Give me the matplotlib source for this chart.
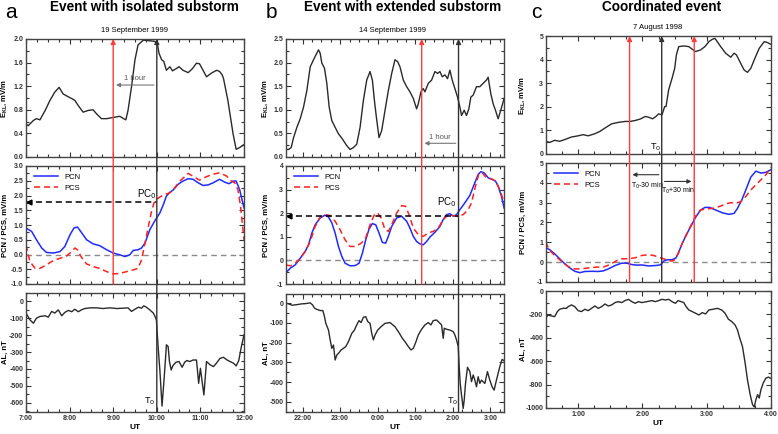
import matplotlib
matplotlib.use("Agg")
import matplotlib.pyplot as plt
from matplotlib.patches import ConnectionPatch
from matplotlib.ticker import MultipleLocator, FuncFormatter

plt.rcParams['font.family'] = ['Liberation Sans', 'DejaVu Sans']
plt.rcParams['axes.unicode_minus'] = False

# ---------------- panel a : 19 September 1999 ----------------
a_ekl_t = [7.00, 7.05, 7.17, 7.24, 7.32, 7.44, 7.55, 7.66, 7.76, 7.85, 7.97, 8.05, 8.12, 8.20,
           8.31, 8.43, 8.54, 8.62, 8.73, 8.85, 9.00, 9.15, 9.24, 9.29, 9.34, 9.42, 9.50, 9.57,
           9.69, 9.84, 9.95, 10.01, 10.05, 10.11, 10.16, 10.22, 10.30, 10.36, 10.45, 10.51,
           10.60, 10.72, 10.82, 10.91, 10.98, 11.06, 11.14, 11.25, 11.37, 11.44, 11.50, 11.53,
           11.63, 11.75, 11.82, 11.90, 12.00]
a_ekl = [0.56, 0.53, 0.62, 0.65, 0.63, 0.79, 0.96, 1.10, 1.18, 1.07, 1.02, 0.99, 0.96, 0.87,
         0.76, 0.79, 0.80, 0.73, 0.65, 0.65, 0.67, 0.69, 0.65, 0.63, 0.79, 1.19, 1.65, 1.90,
         1.98, 1.97, 1.96, 1.93, 1.76, 1.65, 1.62, 1.47, 1.53, 1.46, 1.50, 1.53,
         1.47, 1.43, 1.50, 1.59, 1.58, 1.47, 1.36, 1.42, 1.47, 1.45, 1.39, 1.33,
         0.96, 0.39, 0.13, 0.16, 0.21]

a_pcn_t = [7.00, 7.13, 7.24, 7.36, 7.47, 7.63, 7.78, 7.89, 8.01, 8.10, 8.18, 8.27, 8.39, 8.54,
           8.69, 8.85, 9.00, 9.15, 9.27, 9.38, 9.46, 9.57, 9.65, 9.73, 9.84, 9.95, 10.07, 10.15,
           10.22, 10.30, 10.37, 10.49, 10.60, 10.72, 10.83, 10.95, 11.06, 11.18, 11.29, 11.44,
           11.56, 11.66, 11.75, 11.82, 11.90, 12.00]
a_pcn = [0.90, 0.78, 0.50, 0.22, 0.07, 0.05, 0.10, 0.27, 0.67, 0.90, 0.93, 0.75, 0.50, 0.36,
         0.30, 0.16, 0.05, -0.01, -0.07, -0.01, 0.14, 0.16, 0.22, 0.39, 0.84, 1.13, 1.41, 1.69,
         1.98, 2.11, 2.18, 2.38, 2.49, 2.57, 2.55, 2.43, 2.34, 2.36, 2.43, 2.55,
         2.45, 2.40, 2.49, 2.49, 2.20, 1.58]

a_pcs_t = [7.00, 7.09, 7.21, 7.32, 7.47, 7.63, 7.78, 7.93, 8.05, 8.12, 8.18, 8.27, 8.39, 8.54,
           8.69, 8.85, 9.00, 9.15, 9.31, 9.46, 9.57, 9.65, 9.73, 9.80, 9.88, 9.95, 10.07, 10.18,
           10.30, 10.41, 10.53, 10.64, 10.72, 10.82, 10.98, 11.14, 11.29, 11.44, 11.60, 11.71,
           11.79, 11.86, 11.92, 11.96, 12.00]
a_pcs = [0.33, -0.24, -0.47, -0.47, -0.35, -0.20, -0.13, -0.05, 0.10, 0.22, 0.16, -0.09, -0.32, -0.41,
         -0.47, -0.58, -0.66, -0.64, -0.58, -0.52, -0.47, -0.18, 0.39, 0.90, 1.47, 1.81, 1.95, 2.03,
         2.09, 2.26, 2.49, 2.64, 2.75, 2.66, 2.52, 2.64, 2.72, 2.77, 2.66, 2.49,
         2.43, 2.20, 1.64, 1.07, 0.50]

a_al_t = [7.00, 7.09, 7.17, 7.24, 7.32, 7.44, 7.51, 7.59, 7.66, 7.74, 7.82, 7.89, 7.97, 8.05,
          8.12, 8.20, 8.27, 8.35, 8.47, 8.62, 8.77, 8.92, 9.08, 9.23, 9.34, 9.42, 9.50, 9.58,
          9.65, 9.70, 9.76, 9.84, 9.92, 9.96, 9.99, 10.03, 10.07, 10.12, 10.17, 10.21, 10.22,
          10.26, 10.29, 10.33, 10.37, 10.44, 10.51, 10.58, 10.64, 10.69, 10.76, 10.83, 10.91,
          10.96, 11.00, 11.08, 11.14, 11.22, 11.30, 11.37, 11.45, 11.53, 11.60, 11.68, 11.76,
          11.82, 11.88, 11.94, 12.00]
a_al = [-69, -109, -129, -99, -89, -85, -93, -59, -69, -50, -85, -65, -53, -61,
        -46, -61, -50, -42, -38, -38, -42, -38, -42, -40, -38, -59, -46, -34,
        -40, -26, -34, -50, -69, -89, -109, -267, -406, -620, -450, -300, -257,
        -267, -356, -406, -380, -360, -356, -390, -360, -350, -356, -347, -347,
        -485, -396, -554, -356, -375, -386, -365, -337, -331, -345, -356, -366,
        -382, -350, -267, -198]

# ---------------- panel b : 14 September 1999 (hours past 24 = next day) ----------------
b_ekl_x = [92, 100, 108, 115, 125, 135, 145, 155, 165, 175, 182, 190, 195, 200, 208, 215, 222,
           230, 240, 250, 262, 275, 285, 295, 305, 315, 325, 335, 345, 352, 358, 364, 372, 380,
           390, 400, 410, 420, 428, 435, 445, 455, 465, 475, 485, 490, 498, 505, 510, 520, 530,
           540, 548, 555, 562, 570, 578, 585, 592, 600, 608, 615, 620, 628, 635, 642, 648, 655,
           665, 675, 685, 695, 700, 708, 715, 722, 730, 738, 748]
b_ekl_t = [round(22 + (x - 142) / 113, 3) for x in b_ekl_x]
b_ekl = [0.16, 0.16, 0.20, 0.41, 0.63, 0.81, 1.06, 1.41, 1.91, 2.06, 2.16, 2.27, 2.20, 1.99, 1.88,
         1.56, 1.06, 0.77, 0.63, 0.49, 0.38, 0.24, 0.16, 0.20, 0.27, 0.63, 1.20, 1.63, 1.81, 1.63,
         1.20, 0.84, 0.41, 0.56, 0.99, 1.41, 1.77, 2.06, 2.02, 1.91, 1.63, 1.49, 1.38, 1.24, 1.02,
         1.13, 1.38, 1.45, 1.38, 1.56, 1.63, 1.81, 1.77, 1.81, 1.70, 1.74, 1.66, 1.84, 1.63, 1.45,
         1.27, 1.06, 0.88, 0.99, 0.88, 1.02, 1.27, 1.31, 1.49, 1.49, 1.56, 1.63, 1.69, 1.34, 1.13,
         0.99, 0.81, 0.99, 1.24]

b_pcn_x = [92, 105, 120, 135, 150, 160, 170, 180, 195, 210, 220, 230, 240, 250, 260, 270, 285,
           300, 312, 322, 332, 342, 352, 362, 372, 382, 392, 400, 410, 425, 440, 455, 465, 475,
           485, 495, 505, 515, 525, 540, 555, 565, 575, 585, 595, 605, 615, 630, 645, 660, 670,
           678, 688, 700, 712, 722, 730, 740, 748]
b_pcn_t = [round(22 + (x - 142) / 113, 3) for x in b_pcn_x]
b_pcn = [-0.52, -0.33, -0.19, 0.09, 0.38, 0.66, 1.16, 1.51, 1.80, 1.92, 1.84, 1.59, 1.16, 0.59,
         0.17, -0.12, -0.23, -0.22, -0.12, 0.31, 0.87, 1.33, 1.56, 1.51, 1.16, 0.76, 0.73, 1.02,
         1.44, 1.80, 1.87, 1.66, 1.37, 1.02, 0.80, 0.70, 0.66, 0.80, 0.99, 1.19, 1.44, 1.73, 1.94,
         1.98, 1.87, 1.94, 2.15, 2.44, 2.75, 3.29, 3.64, 3.76, 3.71, 3.50, 3.43, 3.36, 3.15, 2.72,
         2.22]

b_pcs_x = [92, 105, 120, 135, 150, 165, 180, 195, 210, 225, 240, 255, 270, 285, 300, 315, 330,
           345, 358, 368, 378, 390, 400, 410, 425, 440, 452, 462, 475, 490, 505, 520, 535, 550,
           565, 580, 595, 610, 625, 640, 650, 662, 672, 682, 695, 710, 722, 735, 748]
b_pcs_t = [round(22 + (x - 142) / 113, 3) for x in b_pcs_x]
b_pcs = [-0.19, -0.23, -0.12, 0.09, 0.38, 0.80, 1.44, 1.84, 1.94, 1.90, 1.66, 1.30, 0.87, 0.59,
         0.59, 0.70, 0.87, 1.51, 1.94, 2.01, 1.80, 1.30, 1.23, 1.51, 2.01, 2.32, 2.29, 1.94, 1.37,
         1.09, 1.02, 1.16, 1.23, 1.37, 1.73, 1.94, 1.90, 1.87, 1.94, 2.15, 2.44, 3.15, 3.67, 3.71,
         3.50, 3.46, 3.36, 3.00, 2.44]

b_al_x = [92, 100, 110, 125, 140, 150, 165, 172, 178, 185, 195, 203, 208, 212, 216, 220, 225,
          230, 235, 240, 245, 250, 258, 265, 272, 280, 290, 298, 305, 312, 318, 325, 332, 338,
          345, 350, 355, 360, 368, 378, 390, 405, 420, 432, 442, 450, 460, 468, 475, 482, 490,
          500, 510, 520, 528, 535, 545, 553, 560, 565, 568, 575, 585, 595, 600, 605, 610, 613,
          616, 620, 625, 628, 632, 638, 645, 650, 655, 660, 665, 670, 675, 680, 690, 698, 705,
          712, 718, 725, 735, 742, 748]
b_al_t = [round(22 + (x - 142) / 113, 3) for x in b_al_x]
b_al = [0, -3, -10, -7, -3, -2, 2, -8, -25, -31, -37, -37, -68, -102, -119, -136, -186,
        -229, -212, -288, -263, -254, -237, -229, -220, -195, -153, -136, -110, -88, -98, -71,
        -68, -93, -102, -153, -186, -161, -136, -119, -102, -98, -119, -149, -178, -195, -220,
        -237, -229, -200, -161, -132, -110, -98, -110, -88, -85, -98, -110, -178, -127, -132,
        -136, -144, -161, -186, -220, -322, -407, -466, -534, -492, -407, -325, -347, -398,
        -364, -390, -424, -373, -407, -390, -407, -347, -390, -424, -441, -390, -322, -285, -292]

# ---------------- panel c : 7 August 1998 ----------------
c_ekl_x = [93, 105, 120, 135, 150, 170, 190, 205, 220, 240, 255, 270, 290, 310, 330, 345, 360,
           375, 390, 400, 412, 422, 430, 440, 448, 452, 460, 470, 478, 483, 490, 505, 520, 530,
           540, 555, 568, 580, 590, 598, 605, 615, 630, 645, 655, 662, 672, 685, 695, 705, 715,
           730, 745, 755, 768]
c_ekl_t = [round(1 + (x - 190) / 191.7, 3) for x in c_ekl_x]
c_ekl = [0.54, 0.49, 0.58, 0.54, 0.61, 0.72, 0.77, 0.82, 0.77, 0.86, 0.96, 1.10, 1.28, 1.34,
         1.38, 1.38, 1.42, 1.48, 1.59, 1.56, 1.49, 1.59, 1.70, 1.66, 2.01, 2.01, 2.72, 3.21, 3.63,
         4.20, 4.55, 4.58, 4.55, 4.44, 4.34, 4.41, 4.55, 4.76, 4.86, 4.90, 4.76, 4.55, 4.27, 4.10,
         4.27, 4.20, 3.92, 3.56, 3.46, 3.63, 3.99, 4.48, 4.76, 4.72, 4.62]

c_pcn_x = [93, 105, 120, 135, 150, 165, 180, 195, 210, 230, 250, 265, 280, 300, 320, 335, 350,
           365, 380, 400, 420, 435, 445, 455, 470, 482, 490, 500, 512, 525, 540, 555, 568, 582,
           600, 620, 640, 655, 665, 678, 690, 705, 720, 735, 750, 768]
c_pcn_t = [round(1 + (x - 190) / 191.7, 3) for x in c_pcn_x]
c_pcn = [0.73, 0.63, 0.42, 0.17, -0.08, -0.29, -0.46, -0.53, -0.47, -0.46, -0.47, -0.44, -0.34,
         -0.17, -0.05, -0.05, -0.12, -0.15, -0.14, -0.19, -0.17, -0.14, 0.05, 0.12, 0.12, 0.22,
         0.51, 0.93, 1.36, 1.78, 2.25, 2.63, 2.76, 2.76, 2.63, 2.49, 2.41, 2.46, 2.71, 3.14, 3.64,
         4.29, 4.59, 4.49, 4.53, 4.69]

c_pcs_x = [93, 105, 120, 140, 160, 180, 200, 220, 245, 265, 285, 305, 320, 340, 360, 380, 400,
           415, 430, 445, 460, 470, 478, 488, 500, 512, 525, 540, 555, 570, 590, 610, 630, 645,
           660, 675, 690, 705, 720, 735, 750, 768]
c_pcs_t = [round(1 + (x - 190) / 191.7, 3) for x in c_pcs_x]
c_pcs = [1.02, 0.59, 0.34, 0.05, -0.22, -0.34, -0.34, -0.29, -0.25, -0.25, -0.12, 0.08, 0.17,
         0.17, 0.22, 0.34, 0.37, 0.34, 0.25, 0.17, 0.08, 0.05, 0.12, 0.42, 0.93, 1.36, 1.81, 2.32,
         2.63, 2.68, 2.71, 2.80, 2.93, 3.00, 2.97, 3.05, 3.31, 3.64, 3.90, 4.15, 4.41, 4.83]

c_al_x = [93, 100, 110, 120, 128, 135, 145, 155, 160, 170, 180, 190, 200, 210, 220, 230, 240,
          250, 260, 270, 280, 290, 300, 310, 320, 330, 340, 350, 360, 370, 380, 395, 410, 420,
          430, 440, 450, 460, 470, 480, 488, 497, 505, 512, 520, 530, 540, 550, 560, 570, 580,
          592, 605, 618, 628, 638, 648, 658, 665, 672, 680, 688, 695, 703, 710, 715, 720, 725,
          730, 735, 742, 750, 758, 768]
c_al_t = [round(1 + (x - 190) / 191.7, 3) for x in c_al_x]
c_al = [-233, -205, -213, -219, -176, -156, -148, -148, -134, -119, -134, -168, -176, -156,
        -168, -148, -128, -148, -134, -111, -128, -119, -99, -91, -99, -82, -71, -91, -105, -91,
        -99, -91, -82, -91, -82, -71, -77, -71, -91, -105, -82, -91, -99, -134, -162, -176, -190,
        -205, -185, -196, -162, -156, -148, -162, -190, -241, -261, -290, -332, -403, -474, -616,
        -759, -886, -972, -991, -929, -886, -915, -844, -787, -744, -736, -753]

titles = ['Event with isolated substorm', 'Event with extended substorm', 'Coordinated event']
letters = ['a', 'b', 'c']
dates = ['19 September 1999', '14 September 1999', '7 August 1998']

LINE = '#2a2a2a'
BLUE = '#1f2bff'
RED = '#ff2020'
VRED = '#ff3b3b'


def hour_fmt(v, pos):
    return '%d:00' % (int(round(v)) % 24)


def style_axis(ax, xlim, ylim, ymaj, ymin, show_x):
    ax.set_xlim(*xlim)
    ax.set_ylim(*ylim)
    ax.xaxis.set_major_locator(MultipleLocator(1))
    ax.xaxis.set_minor_locator(MultipleLocator(0.25))
    ax.yaxis.set_major_locator(MultipleLocator(ymaj))
    ax.yaxis.set_minor_locator(MultipleLocator(ymin))
    ax.tick_params(which='both', direction='in', top=True, right=True, width=0.8,
                   colors='#333333', labelsize=5, pad=2)
    ax.tick_params(which='major', length=3.5)
    ax.tick_params(which='minor', length=2)
    for lab in ax.get_yticklabels():
        lab.set_fontweight('bold')
    if show_x:
        ax.xaxis.set_major_formatter(FuncFormatter(hour_fmt))
        for lab in ax.get_xticklabels():
            lab.set_fontweight('bold')
        ax.set_xlabel('UT', fontsize=6, fontweight='bold', labelpad=1.5)
    else:
        ax.tick_params(axis='x', labelbottom=False)
    for s in ax.spines.values():
        s.set_color('#444444')
        s.set_linewidth(1.0)


def vline(fig, ax_top, ax_bot, x, color, arrow=True):
    y_top = ax_top.get_ylim()[1]
    y_bot = ax_bot.get_ylim()[0]
    con = ConnectionPatch(xyA=(x, y_bot), coordsA=ax_bot.transData,
                          xyB=(x, y_top), coordsB=ax_top.transData,
                          arrowstyle='-|>' if arrow else '-', mutation_scale=7,
                          color=color, lw=1.0, zorder=5)
    fig.add_artist(con)


fig = plt.figure(figsize=(7.78, 4.34), dpi=100)
W, H = 778.0, 434.0


def add_ax(left, right, top, bottom):
    return fig.add_axes([left / W, 1 - bottom / H, (right - left) / W, (bottom - top) / H])


cols = [
    dict(lr=(26, 244), rows=[(39, 157), (166, 284), (293, 412)]),
    dict(lr=(286, 504), rows=[(39, 157), (166, 284), (294, 412)]),
    dict(lr=(546, 771), rows=[(36, 154), (163, 282), (291, 408)]),
]
axes = []
for c in cols:
    l, r = c['lr']
    axes.append([add_ax(l, r, t, b) for t, b in c['rows']])

ekl_t = [a_ekl_t, b_ekl_t, c_ekl_t]
ekl = [a_ekl, b_ekl, c_ekl]
pcn_t = [a_pcn_t, b_pcn_t, c_pcn_t]
pcn = [a_pcn, b_pcn, c_pcn]
pcs_t = [a_pcs_t, b_pcs_t, c_pcs_t]
pcs = [a_pcs, b_pcs, c_pcs]
al_t = [a_al_t, b_al_t, c_al_t]
al = [a_al, b_al, c_al]

xlims = [(7, 12), (21.56, 27.36), (0.5, 4.0)]
ekl_lim = [((0, 2), 0.4, 0.2), ((0, 2.5), 0.5, 0.25), ((0, 5), 1, 0.5)]
pc_lim = [((-1, 3), 0.5, 0.25), ((-1, 4), 1, 0.5), ((-1, 5), 1, 0.5)]
al_lim = [((-655, 50), 100, 50), ((-552, 47), 100, 50), ((-1000, 0), 200, 100)]
# right edge (px) of the rotated y labels
ylab_x = [9, 270, 527]
title_x = [144, 403, 662]
letter_x = [5, 266, 531]
date_x = [9.5, 24.4, 2.24]

for i in range(3):
    a1, a2, a3 = axes[i]
    a1.plot(ekl_t[i], ekl[i], color=LINE, lw=1.0)
    a2.axhline(0, color='#8a8a8a', lw=1.0, ls=(0, (4, 3)))
    a2.plot(pcn_t[i], pcn[i], color=BLUE, lw=1.1, label='PCN')
    a2.plot(pcs_t[i], pcs[i], color=RED, lw=1.1, ls=(0, (4, 2.5)), label='PCS')
    a3.plot(al_t[i], al[i], color=LINE, lw=1.0)

    style_axis(a1, xlims[i], *ekl_lim[i], show_x=False)
    style_axis(a2, xlims[i], *pc_lim[i], show_x=False)
    style_axis(a3, xlims[i], *al_lim[i], show_x=True)

    a1.set_ylabel('E$_{\\mathregular{KL}}$, mV/m', fontsize=5.5, fontweight='bold')
    a2.set_ylabel('PCN / PCS, mV/m', fontsize=5.5, fontweight='bold')
    a3.set_ylabel('AL, nT', fontsize=5.5, fontweight='bold')
    l, r = cols[i]['lr']
    for a in (a1, a2, a3):
        a.yaxis.set_label_coords((ylab_x[i] - l) / (r - l), 0.5)

    a2.legend(loc='upper left', frameon=False, fontsize=5.5, handlelength=3.2,
              borderaxespad=0.6, labelspacing=0.5)

    fig.text(letter_x[i] / W, 1 - 12 / H, letters[i], fontsize=15, ha='left', va='center')
    fig.text(title_x[i] / W, 1 - 7 / H, titles[i], fontsize=9.8, fontweight='bold',
             ha='center', va='center')
    a1.text(date_x[i], 1.07, dates[i], transform=a1.get_xaxis_transform(),
            fontsize=5.5, ha='center', va='center')

# ---------- annotations panel a ----------
a1, a2, a3 = axes[0]
vline(fig, a1, a2, 9.0, VRED)
vline(fig, a1, a3, 10.0, '#333333')
a1.annotate('', xy=(9.0, 1.22), xytext=(10.0, 1.22),
            arrowprops=dict(arrowstyle='-|>', color='#777777', lw=0.8, mutation_scale=6))
a1.text(9.5, 1.27, '1 hour', fontsize=5.5, color='#555555', ha='center', va='bottom')
a2.plot([7.0, 10.0], [1.78, 1.78], color='k', lw=1.1, ls=(0, (4, 2.5)))
a2.plot([7.06], [1.78], marker='<', ms=3.5, color='k')
a2.text(9.76, 2.05, 'PC$_0$', fontsize=7, ha='center', va='center')
a3.text(9.84, -590, 'T$_0$', fontsize=6.5, ha='center', va='center')

# ---------- annotations panel b ----------
b1, b2, b3 = axes[1]
vline(fig, b1, b2, 25.17, VRED)
vline(fig, b1, b3, 26.15, '#333333')
b1.annotate('', xy=(25.17, 0.29), xytext=(26.15, 0.29),
            arrowprops=dict(arrowstyle='-|>', color='#777777', lw=0.8, mutation_scale=6))
b1.text(25.66, 0.33, '1 hour', fontsize=5.5, color='#555555', ha='center', va='bottom')
b2.plot([21.56, 26.15], [1.9, 1.9], color='k', lw=1.1, ls=(0, (4, 2.5)))
b2.plot([21.63], [1.9], marker='<', ms=3.5, color='k')
b2.text(25.85, 2.47, 'PC$_0$', fontsize=7, ha='center', va='center')
b3.text(25.98, -495, 'T$_0$', fontsize=6.5, ha='center', va='center')

# ---------- annotations panel c ----------
c1, c2, c3 = axes[2]
vline(fig, c1, c2, 1.80, VRED)
vline(fig, c1, c2, 2.806, VRED)
vline(fig, c1, c2, 2.30, '#333333')
c1.text(2.2, 0.3, 'T$_0$', fontsize=6.5, ha='center', va='center')
c2.annotate('', xy=(1.80, 4.41), xytext=(2.30, 4.41),
            arrowprops=dict(arrowstyle='-|>', color='#333333', lw=0.8, mutation_scale=6))
c2.annotate('', xy=(2.806, 4.07), xytext=(2.30, 4.07),
            arrowprops=dict(arrowstyle='-|>', color='#333333', lw=0.8, mutation_scale=6))
c2.text(2.07, 3.86, 'T$_0$-30 min', fontsize=5, ha='center', va='center')
c2.text(2.55, 3.61, 'T$_0$+30 min', fontsize=5, ha='center', va='center')

fig.savefig('out.png', dpi=100)
